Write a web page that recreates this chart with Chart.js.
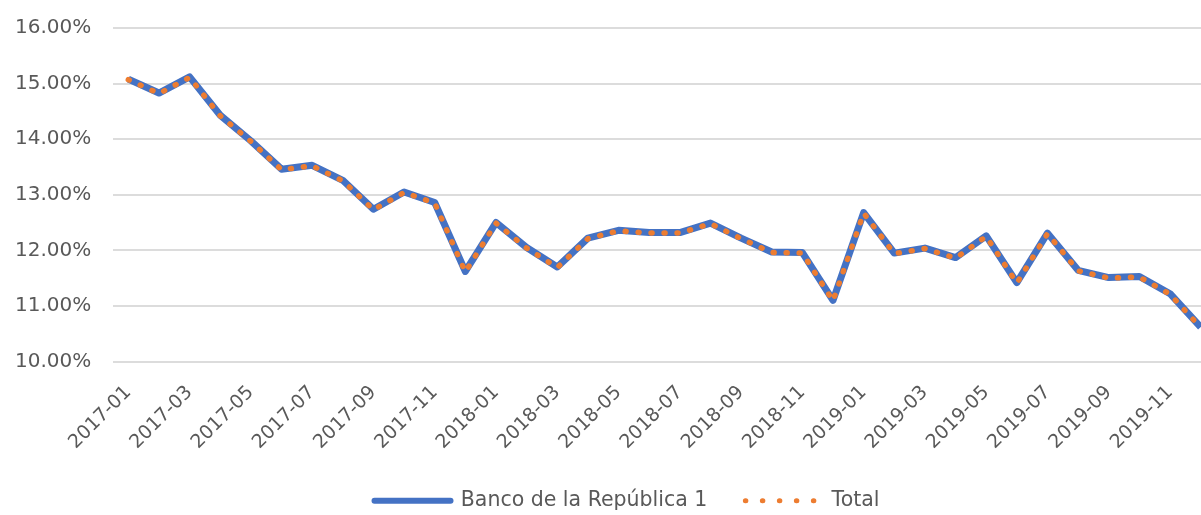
<!DOCTYPE html>
<html>
<head>
<meta charset="utf-8">
<script src="https://cdn.jsdelivr.net/npm/chart.js@4.4.1/dist/chart.umd.min.js"></script>
<style>
  html, body { margin:0; padding:0; background:#fff; overflow:hidden; }
  #wrap { width:1239px; height:521px; }
</style>
</head>
<body>
<div id="wrap"><canvas id="c" width="1239" height="521"></canvas></div>
<script>
// monthly categories
const months = [
  '2017-01','2017-02','2017-03','2017-04','2017-05','2017-06','2017-07','2017-08','2017-09','2017-10','2017-11','2017-12',
  '2018-01','2018-02','2018-03','2018-04','2018-05','2018-06','2018-07','2018-08','2018-09','2018-10','2018-11','2018-12',
  '2019-01','2019-02','2019-03','2019-04','2019-05','2019-06','2019-07','2019-08','2019-09','2019-10','2019-11','2019-12'
];

// values in percent
const bancoRepublica = [
  15.08, 14.83, 15.12, 14.43, 13.97, 13.46, 13.53, 13.26, 12.74, 13.05, 12.86, 11.62,
  12.50, 12.05, 11.70, 12.22, 12.36, 12.32, 12.32, 12.49, 12.22, 11.97, 11.96, 11.10,
  12.68, 11.95, 12.04, 11.87, 12.26, 11.42, 12.31, 11.64, 11.51, 11.53, 11.22, 10.62
];
const total = [
  15.07, 14.82, 15.11, 14.42, 13.96, 13.45, 13.52, 13.25, 12.73, 13.04, 12.85, 11.61,
  12.49, 12.04, 11.69, 12.21, 12.35, 12.31, 12.31, 12.48, 12.21, 11.96, 11.95, 11.09,
  12.67, 11.94, 12.03, 11.86, 12.25, 11.41, 12.30, 11.63, 11.50, 11.52, 11.21, 10.61
];

const yMin = 10, yMax = 16, yStep = 1;

const textGray = '#595959';
Chart.defaults.font.family = '"DejaVu Sans", sans-serif';
Chart.defaults.color = textGray;

// legend swatches: take line style from the dataset, not the point
function legendLabels(chart) {
  const items = Chart.defaults.plugins.legend.labels.generateLabels(chart);
  items.forEach(it => {
    const ds = chart.data.datasets[it.datasetIndex];
    it.strokeStyle = ds.borderColor;
    it.fillStyle = ds.borderColor;
    it.lineWidth = ds.legendWidth;
    it.lineCap = 'round';
    it.lineDash = ds.legendDash;
  });
  return items;
}

new Chart(document.getElementById('c'), {
  type: 'line',
  data: {
    labels: months,
    datasets: [
      {
        label: 'Banco de la República 1',
        data: bancoRepublica,
        borderColor: '#4472C4',
        backgroundColor: '#4472C4',
        borderWidth: 7,
        borderJoinStyle: 'round',
        pointRadius: 0,
        tension: 0,
        order: 1,
        legendWidth: 6,
        legendDash: []
      },
      {
        label: 'Total',
        data: total,
        borderColor: '#ED7D31',
        backgroundColor: '#ED7D31',
        borderWidth: 5.5,
        borderDash: [1, 12],
        borderCapStyle: 'round',
        pointRadius: 0,
        tension: 0,
        order: 0,
        legendWidth: 5,
        legendDash: [0.5, 16.5]
      }
    ]
  },
  options: {
    responsive: false,
    animation: false,
    layout: { padding: { left: 15, right: 0, top: 28, bottom: 0 } },
    plugins: {
      tooltip: { enabled: false },
      legend: {
        position: 'bottom',
        labels: {
          usePointStyle: true,
          pointStyle: 'line',
          pointStyleWidth: 76,
          padding: 38,
          color: textGray,
          font: { size: 20.5 },
          generateLabels: legendLabels,
          sort: (a, b) => a.datasetIndex - b.datasetIndex
        }
      }
    },
    scales: {
      x: {
        offset: true,
        grid: { display: false, drawTicks: false },
        border: { display: false },
        ticks: {
          autoSkip: false,
          maxRotation: 45,
          minRotation: 45,
          padding: 20,
          color: textGray,
          font: { size: 19 },
          callback: function(val, i) { return i % 2 === 0 ? this.getLabelForValue(val) : ''; }
        },
        afterFit: (scale) => { scale.height = 91; }
      },
      y: {
        min: yMin,
        max: yMax,
        grid: { color: '#dcdcdc', lineWidth: 2, drawTicks: false },
        border: { display: false },
        ticks: {
          stepSize: yStep,
          padding: 4,
          crossAlign: 'far',
          color: textGray,
          font: { size: 20 },
          callback: (v) => v.toFixed(2) + '%'
        },
        afterFit: (scale) => { scale.width = 98; }
      },
      // empty strip on the right, cut off by the window like in the picture
      yRight: {
        position: 'right',
        min: 0,
        max: 1,
        grid: { display: false, drawTicks: false },
        border: { display: false },
        ticks: { display: false },
        afterFit: (scale) => { scale.width = 23; }
      }
    }
  }
});
</script>
</body>
</html>
